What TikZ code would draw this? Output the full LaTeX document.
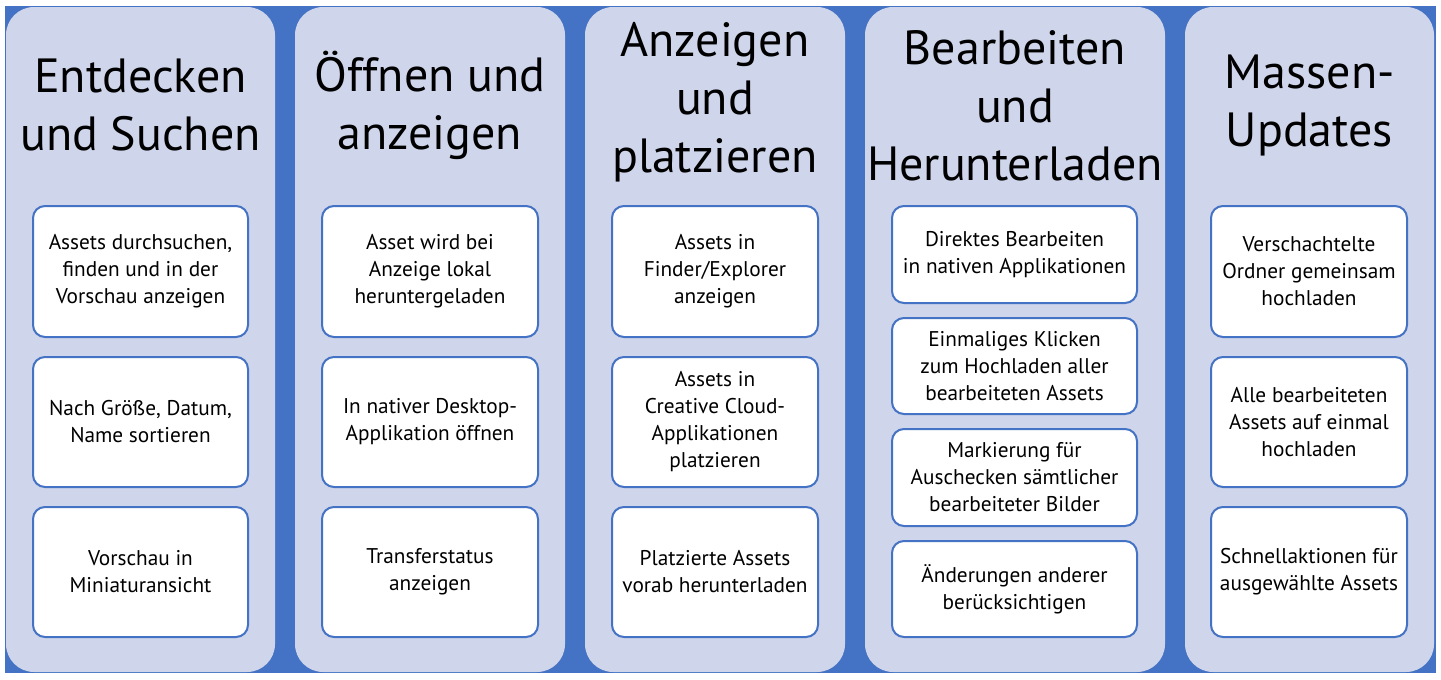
\documentclass[tikz,border=0pt]{standalone}
\usepackage{fontspec}
\setmainfont{PT Sans}
\definecolor{bandblue}{HTML}{4472C4}
\definecolor{panelfill}{HTML}{CFD5EA}
\begin{document}
\begin{tikzpicture}[x=1pt,y=-1pt,
  panel/.style={draw=none, fill=panelfill, rounded corners=28pt, minimum height=665pt, inner sep=0pt},
  heading/.style={align=center, font=\fontsize{48}{58}\selectfont, inner sep=0pt},
  item/.style={draw=bandblue, line width=2pt, fill=white, rounded corners=12pt, align=center,
               font=\fontsize{21.3}{27}\selectfont, inner sep=0pt}]
\useasboundingbox (0,0) rectangle (1441,680);
\fill[white] (0,0) rectangle (1441,680);
\fill[bandblue] (5,6) rectangle (1436,673);

% columns
\node[panel, minimum width=269pt] (p1) at (140.5,339.5) {};
\node[panel, minimum width=270pt] (p2) at (430,339.5) {};
\node[panel, minimum width=260pt] (p3) at (715,339.5) {};
\node[panel, minimum width=300pt] (p4) at (1015,339.5) {};
\node[panel, minimum width=249pt] (p5) at (1309.5,339.5) {};

% column headings
\node[heading] (h1) at (140.5,105) {Entdecken\\und Suchen};
\node[heading] (h2) at (430,105) {Öffnen und\\anzeigen};
\node[heading] (h3) at (715,102) {Anzeigen\\und\\platzieren};
\node[heading] (h4) at (1015,106) {Bearbeiten\\und\\Herunterladen};
\node[heading] (h5) at (1309.5,105) {Massen-\\Updates};

% column 1
\node[item, minimum width=215pt, minimum height=131pt] (a1) at (140.5,271.5) {Assets durchsuchen,\\finden und in der\\Vorschau anzeigen};
\node[item, minimum width=215pt, minimum height=130pt] (a2) at (140.5,422) {Nach Größe, Datum,\\Name sortieren};
\node[item, minimum width=215pt, minimum height=130pt] (a3) at (140.5,572) {Vorschau in\\Miniaturansicht};

% column 2
\node[item, minimum width=216pt, minimum height=131pt] (b1) at (430,271.5) {Asset wird bei\\Anzeige lokal\\heruntergeladen};
\node[item, minimum width=216pt, minimum height=130pt] (b2) at (430,422) {In nativer Desktop-\\Applikation öffnen};
\node[item, minimum width=216pt, minimum height=130pt] (b3) at (430,572) {Transferstatus\\anzeigen};

% column 3
\node[item, minimum width=206pt, minimum height=131pt] (c1) at (715,271.5) {Assets in\\Finder/Explorer\\anzeigen};
\node[item, minimum width=206pt, minimum height=130pt] (c2) at (715,422) {Assets in\\Creative Cloud-\\Applikationen\\platzieren};
\node[item, minimum width=206pt, minimum height=130pt] (c3) at (715,572) {Platzierte Assets\\vorab herunterladen};

% column 4
\node[item, minimum width=245pt, minimum height=97pt] (d1) at (1014.5,254.5) {Direktes Bearbeiten\\in nativen Applikationen};
\node[item, minimum width=245pt, minimum height=96pt] (d2) at (1014.5,366) {Einmaliges Klicken\\zum Hochladen aller\\bearbeiteten Assets};
\node[item, minimum width=245pt, minimum height=97pt] (d3) at (1014.5,477.5) {Markierung für\\Auschecken sämtlicher\\bearbeiteter Bilder};
\node[item, minimum width=245pt, minimum height=96pt] (d4) at (1014.5,589) {Änderungen anderer\\berücksichtigen};

% column 5
\node[item, minimum width=196pt, minimum height=131pt] (e1) at (1309,271.5) {Verschachtelte\\Ordner gemeinsam\\hochladen};
\node[item, minimum width=196pt, minimum height=130pt] (e2) at (1309,422) {Alle bearbeiteten\\Assets auf einmal\\hochladen};
\node[item, minimum width=196pt, minimum height=130pt] (e3) at (1309,572) {Schnellaktionen für\\ausgewählte Assets};
\end{tikzpicture}
\end{document}
